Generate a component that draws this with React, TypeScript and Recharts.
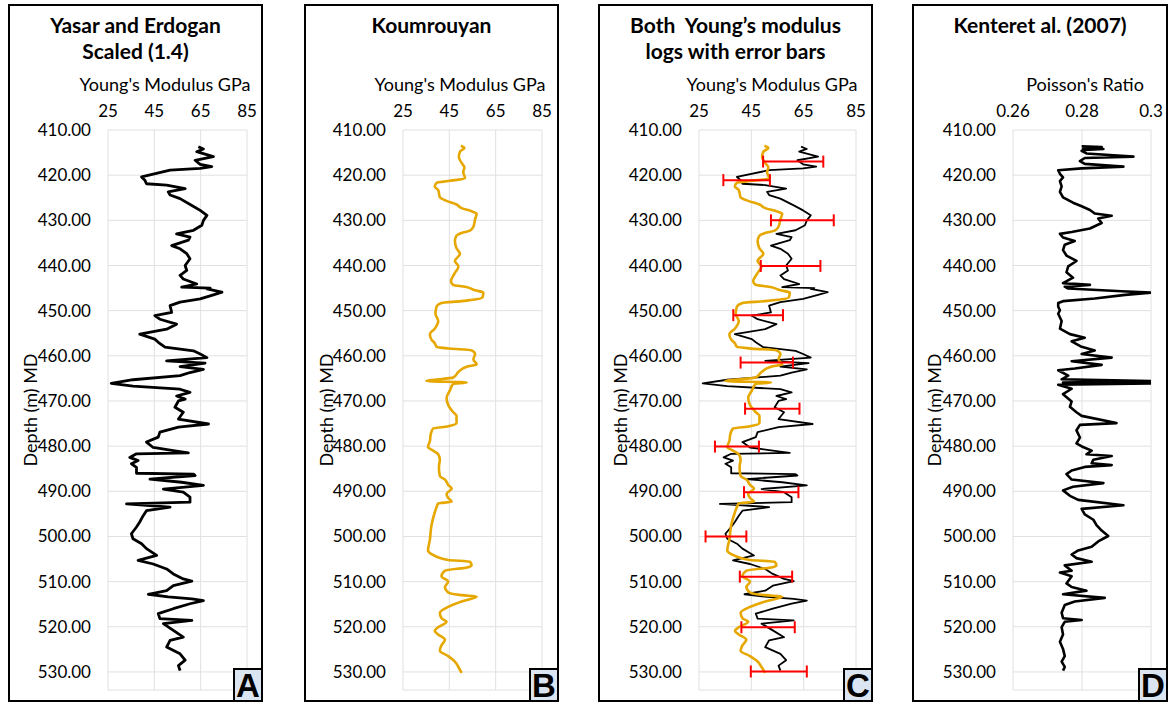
import React from 'react'
import { ComposedChart, Line, Scatter, ErrorBar, XAxis, YAxis, CartesianGrid } from 'recharts'

const FONT = 'Lato, "Open Sans", sans-serif'

const DEPTH_TICKS = [410, 420, 430, 440, 450, 460, 470, 480, 490, 500, 510, 520, 530]
const YM_TICKS = [25, 45, 65, 85]
const PR_TICKS = [0.26, 0.28, 0.3]

// [depth m, Young's modulus GPa]
const yasarErdogan = [
  [413.7, 64.0], [414.2, 66.2], [414.8, 63.3], [415.9, 70.5], [416.7, 62.6], [417.6, 64.8], [418.1, 69.8],
  [418.5, 64.8], [418.9, 51.8], [420.4, 39.5], [421.1, 40.9], [421.9, 41.6], [422.2, 50.3], [423.0, 58.3],
  [423.7, 51.0], [424.4, 51.8], [425.2, 56.1], [426.7, 61.2], [427.8, 64.8], [428.9, 67.7], [430.0, 66.2],
  [431.1, 65.5], [432.2, 61.9], [433.0, 54.6], [433.7, 60.4], [434.4, 59.7], [435.6, 52.5], [436.3, 56.1],
  [437.4, 59.0], [438.5, 60.4], [440.0, 58.3], [441.1, 59.0], [442.2, 56.1], [443.0, 57.5], [444.1, 63.3],
  [444.8, 56.8], [445.0, 69.1], [445.2, 67.7], [445.9, 74.2], [446.5, 70.5], [447.4, 64.8], [448.1, 56.1],
  [448.9, 51.8], [450.4, 52.5], [451.1, 45.2], [451.9, 47.4], [453.0, 54.6], [454.1, 50.3], [455.2, 38.7],
  [456.3, 45.2], [457.0, 46.7], [458.1, 49.6], [458.9, 61.9], [459.6, 64.8], [460.4, 67.7], [461.1, 50.3],
  [461.6, 66.9], [462.4, 56.1], [463.0, 66.2], [463.7, 60.4], [464.4, 56.1], [465.3, 35.8], [466.1, 26.4],
  [466.7, 35.8], [467.4, 56.1], [468.1, 60.4], [468.9, 54.6], [469.6, 58.3], [470.0, 55.4], [471.4, 53.9],
  [472.5, 57.5], [474.0, 55.4], [475.1, 68.4], [475.8, 55.4], [476.9, 47.4], [478.0, 46.7], [479.1, 41.6],
  [480.3, 44.5], [481.0, 53.2], [481.5, 59.7], [481.7, 37.3], [482.5, 34.4], [483.2, 38.0], [483.9, 35.1],
  [484.7, 37.3], [486.0, 37.3], [486.2, 61.9], [486.5, 62.6], [487.3, 43.1], [488.0, 56.8], [488.7, 66.2],
  [489.5, 48.9], [490.2, 57.5], [491.3, 60.4], [492.4, 60.4], [492.8, 33.0], [493.5, 51.8], [494.3, 41.6],
  [495.4, 40.2], [496.8, 38.7], [497.9, 37.3], [499.4, 35.1], [500.5, 35.8], [501.6, 39.5], [502.7, 41.6],
  [504.2, 46.0], [505.3, 38.0], [506.1, 44.5], [507.2, 50.3], [508.3, 53.2], [509.4, 57.5], [509.9, 61.2],
  [510.9, 53.2], [512.0, 50.3], [512.8, 42.4], [513.4, 51.0], [513.8, 61.2], [514.2, 66.2], [514.9, 60.4],
  [516.0, 53.2], [517.1, 46.7], [518.2, 47.4], [518.6, 61.2], [519.3, 48.9], [520.8, 53.2], [522.3, 57.5],
  [523.0, 51.8], [524.5, 50.3], [526.0, 56.1], [527.4, 58.3], [528.6, 55.4], [529.7, 56.1],
]

const koumrouyan = [
  [413.5, 50.0], [414.0, 51.5], [414.8, 49.6], [416.0, 49.1], [417.3, 50.3], [418.3, 51.5], [419.3, 51.0],
  [420.7, 51.8], [421.3, 44.5], [421.7, 39.5], [422.5, 38.7], [423.3, 40.2], [424.9, 40.9], [425.7, 43.8],
  [426.5, 48.1], [427.3, 50.3], [428.0, 54.6], [428.5, 56.8], [429.8, 56.1], [431.4, 55.4], [432.3, 53.9],
  [432.8, 50.3], [433.4, 48.1], [434.6, 47.4], [436.2, 48.1], [437.4, 49.6], [439.0, 47.4], [440.2, 48.9],
  [441.9, 47.1], [443.5, 45.7], [444.3, 46.7], [444.7, 51.8], [445.5, 56.1], [446.0, 59.7], [447.1, 59.3],
  [447.9, 50.3], [448.3, 41.6], [449.1, 39.5], [450.7, 39.0], [452.3, 40.2], [454.0, 38.7], [455.2, 36.6],
  [456.4, 37.3], [457.2, 38.7], [458.0, 39.5], [458.4, 45.2], [458.8, 54.6], [459.6, 56.1], [460.8, 55.4],
  [461.9, 56.8], [462.4, 52.5], [463.6, 48.9], [464.8, 46.7], [465.6, 35.1], [465.9, 52.5], [466.2, 46.7],
  [467.7, 45.2], [469.3, 43.8], [470.9, 44.5], [472.5, 46.7], [473.3, 48.1], [474.9, 48.1], [475.6, 44.5],
  [476.1, 38.0], [477.3, 37.0], [478.9, 36.6], [480.2, 35.8], [481.0, 38.0], [481.8, 40.2], [483.0, 40.9],
  [484.6, 40.5], [486.6, 40.9], [487.4, 43.1], [488.6, 44.5], [489.4, 46.0], [490.6, 43.8], [491.5, 44.5],
  [492.3, 46.0], [492.7, 40.2], [493.5, 39.5], [494.7, 38.7], [497.5, 37.3], [500.7, 36.6], [503.1, 35.8],
  [503.9, 37.3], [505.2, 44.5], [505.6, 53.9], [506.4, 54.6], [506.8, 53.2], [507.6, 43.1], [508.8, 41.6],
  [510.0, 44.5], [511.2, 43.1], [512.4, 44.5], [513.0, 50.3], [513.3, 56.8], [514.4, 50.3], [515.6, 44.5],
  [516.9, 40.9], [518.1, 41.6], [518.9, 43.8], [520.1, 40.2], [520.9, 38.7], [521.7, 40.2], [522.9, 43.1],
  [524.1, 41.6], [525.3, 40.9], [526.5, 44.5], [527.7, 47.4], [528.9, 48.9], [530.2, 50.3],
]

// [depth m, Poisson's ratio]
const kenter = [
  [413.6, 0.2799], [413.8, 0.2857], [414.0, 0.2803], [414.2, 0.2862], [414.4, 0.2808], [414.6, 0.2799],
  [415.2, 0.2813], [415.9, 0.2949], [416.2, 0.2808], [416.9, 0.2794], [417.5, 0.2808], [418.1, 0.292],
  [418.5, 0.2799], [418.9, 0.2731], [419.7, 0.2736], [420.5, 0.2745], [421.3, 0.2736], [422.5, 0.2741],
  [423.7, 0.2736], [424.9, 0.2745], [426.1, 0.2774], [426.9, 0.2799], [427.7, 0.2823], [428.5, 0.2837],
  [429.0, 0.2886], [429.6, 0.2847], [430.6, 0.2857], [431.8, 0.2823], [432.6, 0.277], [433.0, 0.2736],
  [433.8, 0.2745], [434.6, 0.2779], [435.4, 0.275], [436.6, 0.2745], [437.8, 0.2755], [439.0, 0.2784],
  [440.2, 0.276], [441.5, 0.2755], [442.7, 0.2774], [443.9, 0.2745], [444.3, 0.2823], [444.7, 0.275],
  [445.1, 0.276], [445.7, 0.2915], [446.0, 0.3], [446.5, 0.2925], [447.3, 0.2837], [447.9, 0.2745],
  [448.3, 0.2731], [449.1, 0.2731], [449.9, 0.2736], [450.7, 0.2731], [452.3, 0.2741], [454.0, 0.2736],
  [455.2, 0.2765], [456.0, 0.2808], [456.8, 0.277], [458.0, 0.2799], [458.8, 0.2837], [459.6, 0.2799],
  [460.4, 0.2886], [461.2, 0.277], [462.0, 0.2857], [462.8, 0.2779], [463.2, 0.2731], [464.4, 0.276],
  [465.2, 0.2741], [465.6, 0.3], [465.9, 0.2745], [466.1, 0.3], [466.4, 0.2731], [467.3, 0.277],
  [468.5, 0.2745], [470.1, 0.277], [471.3, 0.2765], [472.5, 0.2784], [473.3, 0.2799], [474.9, 0.29],
  [475.3, 0.2794], [476.5, 0.2784], [478.1, 0.2794], [479.4, 0.2784], [480.2, 0.2803], [481.0, 0.2828],
  [481.8, 0.2813], [482.2, 0.2886], [483.0, 0.2833], [483.8, 0.2828], [484.2, 0.2886], [484.6, 0.2808],
  [485.4, 0.277], [486.2, 0.2755], [487.4, 0.277], [488.2, 0.2862], [489.0, 0.2774], [489.8, 0.2745],
  [491.0, 0.2765], [491.9, 0.2789], [493.1, 0.292], [493.9, 0.2799], [495.1, 0.2808], [496.3, 0.2833],
  [497.5, 0.2842], [498.7, 0.2857], [499.9, 0.2876], [501.1, 0.2847], [502.3, 0.2828], [503.1, 0.2789],
  [504.0, 0.277], [504.8, 0.2784], [505.6, 0.2828], [506.4, 0.275], [507.6, 0.277], [508.0, 0.2736],
  [508.8, 0.277], [510.4, 0.2755], [511.2, 0.277], [512.0, 0.2813], [512.8, 0.2745], [513.6, 0.2866],
  [514.4, 0.2779], [515.2, 0.275], [516.9, 0.2741], [518.1, 0.2745], [518.5, 0.2799], [518.9, 0.275],
  [520.1, 0.2741], [521.7, 0.2745], [523.3, 0.2736], [524.9, 0.2745], [526.5, 0.275], [527.7, 0.2741],
  [528.9, 0.275], [529.7, 0.2745],
]

// error bars on the combined log: depth, centre value, half width (GPa)
const errDepth = [417.0, 421.1, 430.0, 440.1, 451.0, 461.5, 471.7, 480.1, 490.2, 500.0, 508.9, 520.1, 529.9]
const errCenter = [61.0, 43.2, 64.5, 60.0, 47.6, 50.9, 53.0, 39.5, 52.6, 35.3, 50.6, 51.4, 55.5]
const errHalf = [11.5, 8.9, 12.0, 11.4, 9.5, 10.0, 10.4, 8.4, 10.4, 7.8, 10.0, 10.2, 10.7]

const toRows = (pairs: number[][]) => pairs.map(([depth, v]) => ({ depth, v }))
const yeRows = toRows(yasarErdogan)
const kRows = toRows(koumrouyan)
const prRows = toRows(kenter)
const errRows = errDepth.map((depth, i) => ({ depth, v: errCenter[i], err: errHalf[i] }))

const BLACK = '#000000'
const GOLD = '#e6a800'

const TOP = 130
const BOTTOM = 690

interface PanelProps {
  left: number
  width: number
  plotLeft: number
  plotRight: number
  title: string[]
  axisTitle: string
  axisTitleX: number
  letter: string
  xTicks: number[]
  xDomain: [number, number]
  children: React.ReactNode
}

function Panel({ left, width, plotLeft, plotRight, title, axisTitle, axisTitleX, letter, xTicks, xDomain, children }: PanelProps) {
  const yAxisWidth = 70
  const xAxisHeight = 30
  return (
    <>
      <div style={{ position: 'absolute', left, top: 4, width, height: 698, border: '2.5px solid #000', boxSizing: 'border-box' }} />
      <div style={{ position: 'absolute', left, top: 12, width, textAlign: 'center', fontFamily: FONT, fontWeight: 700, fontSize: 21, lineHeight: '26px', color: '#000' }}>
        {title.map((t) => <div key={t} style={{ whiteSpace: 'pre' }}>{t}</div>)}
      </div>
      <div style={{ position: 'absolute', left: axisTitleX - 130, top: 73, width: 260, textAlign: 'center', fontFamily: FONT, fontSize: 18, lineHeight: '22px', color: '#000' }}>
        {axisTitle}
      </div>
      <div style={{ position: 'absolute', left: left + 22 - 80, top: 410 - 11, width: 160, textAlign: 'center', transform: 'rotate(-90deg)', fontFamily: FONT, fontSize: 18, lineHeight: '22px', color: '#000' }}>
        Depth (m) MD
      </div>
      <div style={{ position: 'absolute', left, top: 0 }}>
        <ComposedChart
          layout="vertical"
          width={width}
          height={704}
          margin={{ top: TOP - xAxisHeight, bottom: 704 - BOTTOM, left: plotLeft - left - yAxisWidth, right: left + width - plotRight }}
          style={{ fontFamily: FONT }}
        >
          <CartesianGrid stroke="#e0e0e0" strokeWidth={1} />
          <XAxis
            type="number"
            dataKey="v"
            orientation="top"
            height={xAxisHeight}
            domain={xDomain}
            ticks={xTicks}
            interval={0}
            allowDataOverflow
            tickFormatter={(v: number) => String(v)}
            tick={{ fill: '#000', fontSize: 17 }}
            tickLine={false}
            axisLine={false}
            tickSize={0}
            tickMargin={13}
          />
          <YAxis
            type="number"
            dataKey="depth"
            width={yAxisWidth}
            domain={[410, 534]}
            ticks={DEPTH_TICKS}
            interval={0}
            allowDataOverflow
            tickFormatter={(v: number) => v.toFixed(2)}
            tick={{ fill: '#000', fontSize: 17 }}
            tickLine={false}
            axisLine={false}
            tickSize={0}
            tickMargin={17}
          />
          {children}
        </ComposedChart>
      </div>
      <div style={{ position: 'absolute', left: left + width - 30, top: 668, width: 30, height: 34, boxSizing: 'border-box', border: '2.5px solid #000', background: '#dbe5f1', fontFamily: '"Liberation Sans", Arial, sans-serif', fontWeight: 700, fontSize: 33, lineHeight: '31px', textAlign: 'center', color: '#000' }}>
        {letter}
      </div>
    </>
  )
}

export default function App() {
  return (
    <div style={{ position: 'absolute', left: 0, top: 0, width: 1170, height: 704, background: '#fff', overflow: 'hidden' }}>
      <Panel left={8} width={255} plotLeft={108} plotRight={247} title={['Yasar and Erdogan', 'Scaled (1.4)']}
        axisTitle="Young's Modulus GPa" axisTitleX={165} letter="A" xTicks={YM_TICKS} xDomain={[25, 85]}>
        <Line data={yeRows} dataKey="v" type="linear" stroke={BLACK} strokeWidth={2.8} strokeLinejoin="round" dot={false} isAnimationActive={false} />
      </Panel>
      <Panel left={304} width={255} plotLeft={403} plotRight={542} title={['Koumrouyan']}
        axisTitle="Young's Modulus GPa" axisTitleX={460} letter="B" xTicks={YM_TICKS} xDomain={[25, 85]}>
        <Line data={kRows} dataKey="v" type="monotoneY" stroke={GOLD} strokeWidth={2.6} strokeLinejoin="round" dot={false} isAnimationActive={false} />
      </Panel>
      <Panel left={598} width={275} plotLeft={699} plotRight={856} title={['Both  Young\u2019s modulus', 'logs with error bars']}
        axisTitle="Young's Modulus GPa" axisTitleX={772} letter="C" xTicks={YM_TICKS} xDomain={[25, 85]}>
        <Line data={yeRows} dataKey="v" type="linear" stroke={BLACK} strokeWidth={1.8} strokeLinejoin="round" dot={false} isAnimationActive={false} />
        <Line data={kRows} dataKey="v" type="monotoneY" stroke={GOLD} strokeWidth={2.6} strokeLinejoin="round" dot={false} isAnimationActive={false} />
        <Scatter data={errRows} dataKey="v" shape={() => <g />} isAnimationActive={false}>
          <ErrorBar dataKey="err" direction="x" width={6} stroke="#ff0000" strokeWidth={2} />
        </Scatter>
      </Panel>
      <Panel left={912} width={256} plotLeft={1013} plotRight={1151} title={['Kenteret al. (2007)']}
        axisTitle="Poisson's Ratio" axisTitleX={1085} letter="D" xTicks={PR_TICKS} xDomain={[0.26, 0.3]}>
        <Line data={prRows} dataKey="v" type="linear" stroke={BLACK} strokeWidth={2.6} strokeLinejoin="round" dot={false} isAnimationActive={false} />
      </Panel>
    </div>
  )
}
